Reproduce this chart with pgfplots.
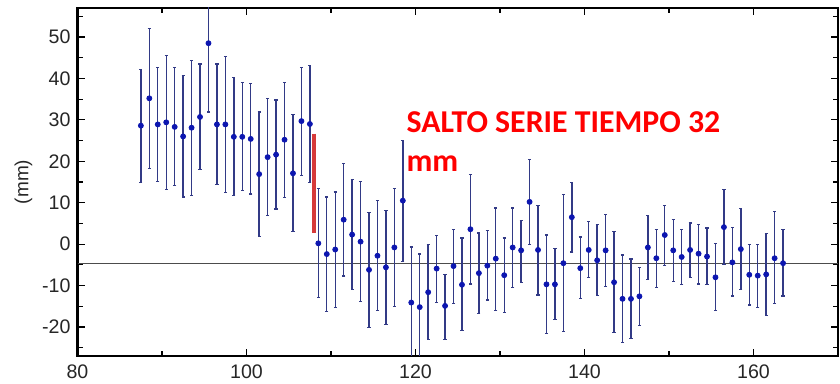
\documentclass[border=0pt]{standalone}
\usepackage{pgfplots}
\pgfplotsset{compat=1.18}
\usepackage{pgfplotstable}
\usepackage{fontspec}
\setmainfont{Liberation Sans}
\newfontfamily\carlito{Carlito}
\usetikzlibrary{calc}
\definecolor{dotblue}{HTML}{0C16B0}
\definecolor{barnavy}{HTML}{323A86}
\definecolor{jumpred}{HTML}{D63A3A}
\pgfplotstableread{
x y ep em
87.5 28.6 13.6 13.7
88.5 35.2 16.8 16.9
89.5 28.9 13.7 13.7
90.5 29.4 16.2 16.2
91.5 28.3 14.3 14.2
92.5 26.0 14.7 14.6
93.5 28.1 16.2 16.3
94.5 30.7 12.8 12.6
95.5 48.5 16.6 16.6
96.5 28.9 14.6 14.5
97.5 28.9 16.4 16.4
98.5 25.9 14.3 14.2
99.5 25.9 13.2 13.0
100.5 25.4 13.3 13.3
101.5 16.9 15.0 15.0
102.5 21.0 14.1 14.1
103.5 21.6 13.2 13.1
104.5 25.2 13.9 13.9
105.5 17.1 14.1 14.0
106.5 29.7 13.0 13.1
107.5 29.0 14.1 14.1
108.5 0.2 13.3 13.1
109.5 -2.4 13.8 13.8
110.5 -1.3 13.9 13.9
111.5 5.9 13.5 13.6
112.5 2.3 13.3 13.2
113.5 0.6 14.5 14.5
114.5 -6.2 13.9 13.9
115.5 -2.8 13.3 13.3
116.5 -5.6 13.7 13.8
117.5 -0.8 14.3 14.3
118.5 10.5 14.5 14.7
119.5 -14.1 13.4 13.4
120.5 -15.2 12.8 12.8
121.5 -11.6 11.6 11.5
122.5 -5.9 7.9 8.1
123.5 -14.9 7.6 8.2
124.5 -5.3 8.9 9.1
125.5 -9.8 11.3 11.1
126.5 3.6 13.2 13.2
127.5 -7.0 9.7 9.7
128.5 -5.2 8.4 8.3
129.5 -3.5 12.2 12.6
130.5 -7.5 9.0 9.0
131.5 -0.8 9.5 9.6
132.5 -1.5 7.2 7.8
133.5 10.2 10.2 10.2
134.5 -1.4 10.8 10.9
135.5 -9.7 11.9 11.8
136.5 -9.7 8.6 8.4
137.5 -4.6 16.5 16.4
138.5 6.5 8.4 8.4
139.5 -5.8 7.5 7.4
140.5 -1.4 6.9 6.6
141.5 -3.9 8.6 8.5
142.5 -1.5 8.6 8.7
143.5 -9.2 12.2 12.2
144.5 -13.2 10.6 10.6
145.5 -13.2 9.6 9.5
146.5 -12.6 7.0 7.0
147.5 -0.8 7.7 7.8
148.5 -3.4 7.0 7.0
149.5 2.2 7.2 7.4
150.5 -1.5 7.4 7.6
151.5 -3.1 6.6 6.7
152.5 -1.4 6.5 6.6
153.5 -2.3 7.1 7.3
154.5 -3.0 6.9 6.8
155.5 -8.0 8.2 8.1
156.5 4.1 9.0 9.1
157.5 -4.4 8.4 8.1
158.5 -1.2 9.8 9.7
159.5 -7.4 7.4 7.3
160.5 -7.6 7.6 7.6
161.5 -7.3 9.9 10.0
162.5 -3.4 11.2 10.9
163.5 -4.6 8.2 7.9
}\data
\begin{document}
\begin{tikzpicture}
\begin{axis}[
  name=ax,
  scale only axis,
  width=380.25pt, height=174pt,
  xmin=80, xmax=170, ymin=-27, ymax=57,
  axis line style={line width=1.3pt},
  tick align=inside,
  xtick={80,100,...,160},
  minor xtick={90,110,130,150,170},
  ytick={-20,-10,...,50},
  minor ytick={-25,-15,...,55},
  major tick length=3.5pt,
  minor tick length=2.5pt,
  tick style={black, line width=0.6pt},
  ticklabel style={font=\fontsize{9.8}{10}\selectfont, text=black!85},
  /pgf/number format/assume math mode=true,
  ylabel={(mm)},
  ylabel style={font=\fontsize{9.5}{10}\selectfont, text=black!85, yshift=-2pt},
  xticklabel style={yshift=-1pt},
]
\addplot[black!70, line width=0.45pt, forget plot] coordinates {(80,-4.6) (170,-4.6)};
\addplot[only marks, mark=*, mark size=1.25pt, mark options={fill=dotblue, draw=dotblue},
  error bars/.cd, y dir=both, y explicit,
  error bar style={barnavy, line width=0.7pt},
  error mark options={rotate=90, mark size=0.8pt, barnavy, line width=0.6pt}]
  table[x=x, y=y, y error plus=ep, y error minus=em] {\data};
\addplot[jumpred, line width=1.7pt] coordinates {(108.0,26.7) (108.0,2.8)};
\node[anchor=base west, inner sep=0pt, text=red, font=\carlito\bfseries\fontsize{15.9}{18}\selectfont] at (axis cs:118.9,26.9) {SALTO SERIE TIEMPO 32};
\node[anchor=base west, inner sep=0pt, text=red, font=\carlito\bfseries\fontsize{15.9}{18}\selectfont] at (axis cs:118.9,17.5) {mm};
\end{axis}
\pgfresetboundingbox
\path ($(ax.south west)+(-38.75pt,-13.5pt)$) rectangle ($(ax.north east)+(1pt,4pt)$);
\end{tikzpicture}
\end{document}
